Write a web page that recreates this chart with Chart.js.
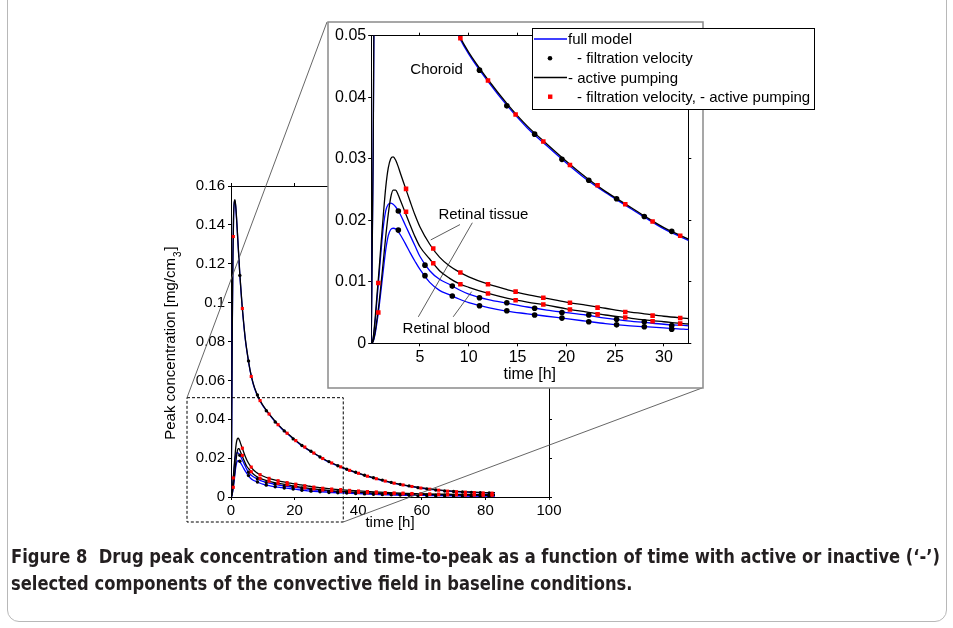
<!DOCTYPE html>
<html><head><meta charset="utf-8">
<script src="https://cdn.jsdelivr.net/npm/chart.js@4.4.1/dist/chart.umd.min.js"></script>
<style>
html,body{margin:0;padding:0;background:#fff;}
body{width:953px;height:628px;position:relative;overflow:hidden;font-family:"Liberation Sans",Arial,sans-serif;}
#frame{position:absolute;left:7px;top:-20px;width:940px;height:642px;border:1px solid #b8b8b8;border-radius:12px;box-sizing:border-box;}
#mainWrap{position:absolute;left:0;top:0;width:953px;height:628px;}
#insetWrap{position:absolute;left:320px;top:14px;width:510px;height:390px;}
.cap{position:absolute;left:11px;white-space:nowrap;font-family:"Liberation Sans Narrow","DejaVu Sans Condensed","Liberation Sans",sans-serif;font-weight:bold;font-size:20px;line-height:27px;color:#231f20;transform-origin:0 50%;}
</style>
</head><body>
<div id="frame"></div>
<div id="mainWrap"><canvas id="mainChart" width="953" height="628"></canvas></div>
<div id="insetWrap"><canvas id="insetChart" width="510" height="390"></canvas></div>
<div class="cap" id="cap1" style="top:543px">Figure 8&nbsp;&nbsp;Drug peak concentration and time-to-peak as a function of time with active or inactive (‘-’)</div>
<div class="cap" id="cap2" style="top:570px">selected components of the convective field in baseline conditions.</div>
<script>
// ---------------- data ----------------
const timeH = [0, 0.2, 0.4, 0.6, 0.8, 1.0, 1.25, 1.5, 1.75, 2.0, 2.25, 2.5, 2.75, 3.0, 3.5, 4, 4.5, 5, 6, 7, 8, 9, 10, 12, 14, 16, 18, 20, 22, 24, 26, 28, 30, 32, 35, 40, 45, 50, 55, 60, 65, 70, 75, 80, 83];

// full model (blue lines)
const choroidFull = [0, 0.030, 0.085, 0.122, 0.143, 0.151, 0.1525, 0.149, 0.143, 0.136, 0.129, 0.122, 0.115, 0.109, 0.098, 0.089, 0.081, 0.075, 0.065, 0.058, 0.0533, 0.0498, 0.0470, 0.0425, 0.0385, 0.0350, 0.0321, 0.0293, 0.0267, 0.0245, 0.0225, 0.0205, 0.0186, 0.0171, 0.0150, 0.0121, 0.0096, 0.0075, 0.0058, 0.0045, 0.0035, 0.0028, 0.0024, 0.0021, 0.0020];
const tissueFull = [0, 0.0008, 0.0035, 0.0072, 0.0110, 0.0148, 0.0190, 0.0216, 0.0226, 0.0228, 0.0226, 0.0222, 0.0216, 0.0209, 0.0192, 0.0175, 0.0158, 0.0141, 0.0118, 0.0104, 0.0096, 0.0087, 0.0080, 0.0071, 0.0065, 0.0059, 0.0054, 0.0050, 0.0046, 0.0041, 0.0037, 0.0034, 0.0031, 0.0029, 0.0026, 0.0021, 0.0017, 0.0014, 0.0012, 0.0010, 0.0009, 0.0008, 0.0007, 0.0007, 0.0006];
const bloodFull = [0, 0.0003, 0.0015, 0.0035, 0.0058, 0.0085, 0.0120, 0.0153, 0.0175, 0.0185, 0.0187, 0.0186, 0.0182, 0.0176, 0.0162, 0.0147, 0.0133, 0.0120, 0.0099, 0.0086, 0.0079, 0.0072, 0.0066, 0.0058, 0.0052, 0.0048, 0.0044, 0.0040, 0.0036, 0.0032, 0.0029, 0.0027, 0.0025, 0.0023, 0.0021, 0.0017, 0.0014, 0.0011, 0.0009, 0.0008, 0.0007, 0.0006, 0.0005, 0.0005, 0.0004];

// - active pumping (black lines)
const choroidNoPump = [0, 0.031, 0.087, 0.124, 0.144, 0.1515, 0.153, 0.1495, 0.1435, 0.1365, 0.1295, 0.1225, 0.1155, 0.1095, 0.0985, 0.0894, 0.0814, 0.0753, 0.0653, 0.0583, 0.0536, 0.0501, 0.0473, 0.0428, 0.0388, 0.0353, 0.0324, 0.0296, 0.0270, 0.0247, 0.0227, 0.0207, 0.0188, 0.0173, 0.0152, 0.0123, 0.0098, 0.0077, 0.0060, 0.0047, 0.0037, 0.0030, 0.0026, 0.0023, 0.0022];
const tissueNoPump = [0, 0.0008, 0.0040, 0.0080, 0.0118, 0.0160, 0.0210, 0.0255, 0.0285, 0.0300, 0.0303, 0.0298, 0.0288, 0.0276, 0.0253, 0.0230, 0.0208, 0.0189, 0.0161, 0.0140, 0.0126, 0.0116, 0.0108, 0.0096, 0.0087, 0.0079, 0.0073, 0.0067, 0.0062, 0.0057, 0.0052, 0.0048, 0.0044, 0.0041, 0.0037, 0.0031, 0.0026, 0.0022, 0.0019, 0.0017, 0.0015, 0.0014, 0.0013, 0.0012, 0.0012];
const bloodNoPump = [0, 0.0003, 0.0018, 0.0040, 0.0065, 0.0095, 0.0135, 0.0175, 0.0210, 0.0237, 0.0249, 0.0249, 0.0242, 0.0232, 0.0212, 0.0192, 0.0173, 0.0157, 0.0137, 0.0118, 0.0106, 0.0097, 0.0091, 0.0081, 0.0073, 0.0067, 0.0062, 0.0056, 0.0051, 0.0046, 0.0042, 0.0038, 0.0035, 0.0032, 0.0029, 0.0024, 0.0020, 0.0017, 0.0015, 0.0013, 0.0012, 0.0011, 0.0010, 0.0009, 0.0009];

// - filtration velocity (black dots)
const dotTimes = [2.78, 5.51, 8.31, 11.1, 13.9, 16.75, 19.55, 22.3, 25.15, 27.99, 30.8, 33.6, 36.4, 39.2, 42.0, 44.8, 47.6, 50.4, 53.2, 56.0, 58.8, 61.6, 64.4, 67.2, 70.0, 72.8, 75.6, 78.4, 81.2];
const choroidNoFilt = [0.114, 0.070, 0.0525, 0.0444, 0.0386, 0.0340, 0.0299, 0.0265, 0.0235, 0.0206, 0.0182, 0.0161, 0.0143, 0.0127, 0.0112, 0.0099, 0.0087, 0.0075, 0.0065, 0.0057, 0.0048, 0.0042, 0.0036, 0.0031, 0.0028, 0.0026, 0.0024, 0.0022, 0.0021];
const tissueNoFilt = [0.0215, 0.0127, 0.0093, 0.0074, 0.0066, 0.0057, 0.0050, 0.0046, 0.0039, 0.0035, 0.0029, 0.0027, 0.0025, 0.0022, 0.0020, 0.0017, 0.0015, 0.0014, 0.0013, 0.0012, 0.0010, 0.0010, 0.0009, 0.0009, 0.0008, 0.0008, 0.0007, 0.0007, 0.0007];
const bloodNoFilt = [0.0184, 0.0110, 0.0077, 0.0061, 0.0053, 0.0046, 0.0041, 0.0035, 0.0030, 0.0027, 0.0023, 0.0022, 0.0020, 0.0018, 0.0016, 0.0014, 0.0013, 0.0011, 0.0010, 0.0009, 0.0008, 0.0008, 0.0007, 0.0007, 0.0006, 0.0006, 0.0005, 0.0005, 0.0005];

// - filtration velocity, - active pumping (red squares)
const squareTimes = [0.73, 3.57, 6.36, 9.14, 11.97, 14.8, 17.64, 20.37, 23.2, 26.04, 28.84, 31.67, 34.5, 37.3, 40.1, 42.9, 45.7, 48.5, 51.3, 54.1, 56.9, 59.7, 62.5, 65.3, 68.1, 70.9, 73.7, 76.5, 79.3, 82.1];
const choroidNoBoth = [0.134, 0.097, 0.062, 0.0496, 0.0427, 0.0372, 0.0328, 0.0290, 0.0257, 0.0226, 0.0198, 0.0175, 0.0155, 0.0137, 0.0122, 0.0107, 0.0094, 0.0082, 0.0071, 0.0062, 0.0054, 0.0046, 0.0040, 0.0035, 0.0030, 0.0027, 0.0025, 0.0023, 0.0021, 0.0020];
const tissueNoBoth = [0.0098, 0.0251, 0.0154, 0.0115, 0.0096, 0.0084, 0.0074, 0.0066, 0.0058, 0.0051, 0.0045, 0.0041, 0.0038, 0.0034, 0.0031, 0.0028, 0.0026, 0.0023, 0.0021, 0.0020, 0.0018, 0.0017, 0.0016, 0.0015, 0.0014, 0.0014, 0.0013, 0.0013, 0.0012, 0.0012];
const bloodNoBoth = [0.0050, 0.0214, 0.0130, 0.0096, 0.0081, 0.0070, 0.0063, 0.0055, 0.0047, 0.0042, 0.0036, 0.0032, 0.0029, 0.0026, 0.0024, 0.0022, 0.0020, 0.0018, 0.0017, 0.0016, 0.0015, 0.0013, 0.0013, 0.0012, 0.0011, 0.0011, 0.0010, 0.0010, 0.0009, 0.0009];

// ticks
const mainXTicks = [0, 20, 40, 60, 80, 100];
const mainYTicks = [0, 0.02, 0.04, 0.06, 0.08, 0.1, 0.12, 0.14, 0.16];
const mainYTickLabels = ['0', '0.02', '0.04', '0.06', '0.08', '0.1', '0.12', '0.14', '0.16'];
const insetXTicks = [5, 10, 15, 20, 25, 30];
const insetYTicks = [0, 0.01, 0.02, 0.03, 0.04, 0.05];
const insetYTickLabels = ['0', '0.01', '0.02', '0.03', '0.04', '0.05'];

// texts
const legendLabels = ['full model', '- filtration velocity', '- active pumping', '- filtration velocity, - active pumping'];
const regionLabels = ['Choroid', 'Retinal tissue', 'Retinal blood'];
const regionLabelT = [6.7, 11.5, 7.7];
const regionLabelV = [0.0445, 0.0209, 0.0024];
// leader lines [t1, v1, t2, v2]
const leaderLines = [[6.1, 0.0168, 9.1, 0.0193], [4.83, 0.0043, 10.8, 0.0208], [8.4, 0.0043, 10.3, 0.0084]];

// ---------------- styling ----------------
const BLUE = '#0000ff', BLACK = '#000000', RED = '#ff0000';
const FONT = '"Liberation Sans", Arial, sans-serif';

function pts(ts, vs) { return ts.map((t, i) => ({ x: t, y: vs[i] })); }

function makeDatasets(sz) {
  const ds = [];
  [choroidNoBoth, tissueNoBoth, bloodNoBoth].forEach(v => ds.push({
    data: pts(squareTimes, v), showLine: false, pointStyle: 'rect', pointRadius: sz.sq,
    pointBackgroundColor: RED, pointBorderColor: RED, pointBorderWidth: 0, pointHoverRadius: 0 }));
  [choroidNoFilt, tissueNoFilt, bloodNoFilt].forEach(v => ds.push({
    data: pts(dotTimes, v), showLine: false, pointStyle: 'circle', pointRadius: sz.dot,
    pointBackgroundColor: BLACK, pointBorderColor: BLACK, pointBorderWidth: 0, pointHoverRadius: 0 }));
  [choroidNoPump, tissueNoPump, bloodNoPump].forEach(v => ds.push({
    data: pts(timeH, v), showLine: true, borderColor: BLACK, borderWidth: sz.lw, pointRadius: 0,
    cubicInterpolationMode: 'monotone', fill: false }));
  [choroidFull, tissueFull, bloodFull].forEach(v => ds.push({
    data: pts(timeH, v), showLine: true, borderColor: BLUE, borderWidth: sz.lw, pointRadius: 0,
    cubicInterpolationMode: 'monotone', fill: false }));
  return ds;
}

function axis(pos, min, max, tickVals, tickLabels, fontSize, showLabels, fitSize, pad) {
  const horiz = (pos === 'top' || pos === 'bottom');
  return {
    type: 'linear', position: pos, min: min, max: max,
    afterBuildTicks: s => { s.ticks = tickVals.map(v => ({ value: v })); },
    afterFit: s => { if (horiz) s.height = fitSize; else s.width = fitSize; },
    ticks: {
      display: showLabels, color: '#000', padding: pad, maxRotation: 0, autoSkip: false,
      font: { family: FONT, size: fontSize },
      callback: (v, i) => tickLabels ? tickLabels[i] : String(v)
    },
    grid: { drawOnChartArea: false, drawTicks: true, tickLength: 3, color: '#000', lineWidth: 1 },
    border: { display: true, color: '#000', width: 1 }
  };
}

// ---------------- main chart ----------------
const DASH_RECT = { tRight: 35.3, vTop: 0.0511, leftOff: 44, bottomOff: 25 };
const INSET_BOX = { left: 328, top: 22, right: 703, bottom: 388 }; // page coords
const INSET_CANVAS = { left: 320, top: 14 };

const mainDecor = {
  id: 'mainDecor',
  afterDraw(chart) {
    const ctx = chart.ctx, xs = chart.scales.x, ys = chart.scales.y, ca = chart.chartArea;
    ctx.save();
    // dashed zoom rectangle
    const rl = ca.left - DASH_RECT.leftOff, rr = xs.getPixelForValue(DASH_RECT.tRight);
    const rt = ys.getPixelForValue(DASH_RECT.vTop), rb = ca.bottom + DASH_RECT.bottomOff;
    ctx.strokeStyle = '#000'; ctx.lineWidth = 1; ctx.setLineDash([3, 2]);
    ctx.strokeRect(rl, rt, rr - rl, rb - rt);
    ctx.setLineDash([]);
    // connector lines
    ctx.strokeStyle = '#555'; ctx.lineWidth = 0.9;
    ctx.beginPath(); ctx.moveTo(rl, rt); ctx.lineTo(INSET_BOX.left - 1, INSET_BOX.top); ctx.stroke();
    ctx.beginPath(); ctx.moveTo(rr, rb); ctx.lineTo(INSET_BOX.right - 1, INSET_BOX.bottom); ctx.stroke();
    // x title
    ctx.fillStyle = '#000'; ctx.textAlign = 'center'; ctx.textBaseline = 'middle';
    ctx.font = '15px ' + FONT;
    ctx.fillText('time [h]', (ca.left + ca.right) / 2, 523);
    // y title with superscript
    ctx.translate(171, 343); ctx.rotate(-Math.PI / 2);
    const t1 = 'Peak concentration [mg/cm', t3 = ']';
    ctx.font = '15px ' + FONT; const w1 = ctx.measureText(t1).width, w3 = ctx.measureText(t3).width;
    ctx.font = '10px ' + FONT; const w2 = ctx.measureText('3').width;
    let x0 = -(w1 + w2 + w3 + 2) / 2;
    ctx.textAlign = 'left';
    ctx.font = '15px ' + FONT; ctx.fillText(t1, x0, 0);
    ctx.font = '10px ' + FONT; ctx.fillText('3', x0 + w1 + 1, 7);
    ctx.font = '15px ' + FONT; ctx.fillText(t3, x0 + w1 + w2 + 2, 0);
    ctx.restore();
  }
};

new Chart(document.getElementById('mainChart'), {
  type: 'line',
  data: { datasets: makeDatasets({ sq: 2.2, dot: 1.7, lw: 1.3 }) },
  options: {
    responsive: false, animation: false, devicePixelRatio: 1, events: [],
    layout: { padding: { left: 171, right: 394, top: 176, bottom: 91 } },
    plugins: { legend: { display: false }, tooltip: { enabled: false } },
    scales: {
      x: axis('bottom', 0, 100, mainXTicks, null, 15, true, 40, 2),
      x2: axis('top', 0, 100, mainXTicks, null, 15, false, 10, 2),
      y: axis('left', 0, 0.16, mainYTicks, mainYTickLabels, 15, true, 60, 3),
      y2: axis('right', 0, 0.16, mainYTicks, null, 15, false, 10, 2)
    }
  },
  plugins: [mainDecor]
});

// ---------------- inset chart ----------------
const insetDecor = {
  id: 'insetDecor',
  beforeDraw(chart) {
    const ctx = chart.ctx;
    const l = INSET_BOX.left - INSET_CANVAS.left, t = INSET_BOX.top - INSET_CANVAS.top;
    const w = INSET_BOX.right - INSET_BOX.left, h = INSET_BOX.bottom - INSET_BOX.top;
    ctx.save();
    ctx.fillStyle = '#fff'; ctx.fillRect(l, t, w, h);
    ctx.strokeStyle = '#8a8a8a'; ctx.lineWidth = 1.5; ctx.strokeRect(l, t, w, h);
    ctx.restore();
  },
  afterDraw(chart) {
    const ctx = chart.ctx, xs = chart.scales.x, ys = chart.scales.y, ca = chart.chartArea;
    ctx.save();
    // leader lines
    ctx.strokeStyle = '#333'; ctx.lineWidth = 0.8;
    leaderLines.forEach(L => {
      ctx.beginPath();
      ctx.moveTo(xs.getPixelForValue(L[0]), ys.getPixelForValue(L[1]));
      ctx.lineTo(xs.getPixelForValue(L[2]), ys.getPixelForValue(L[3]));
      ctx.stroke();
    });
    // region labels
    ctx.fillStyle = '#000'; ctx.font = '15px ' + FONT; ctx.textAlign = 'center'; ctx.textBaseline = 'middle';
    regionLabels.forEach((s, i) => {
      const px = xs.getPixelForValue(regionLabelT[i]), py = ys.getPixelForValue(regionLabelV[i]);
      const w = ctx.measureText(s).width;
      ctx.fillStyle = '#fff'; ctx.fillRect(px - w / 2 - 1, py - 8, w + 2, 16);
      ctx.fillStyle = '#000'; ctx.fillText(s, px, py);
    });
    // x title
    ctx.font = '16px ' + FONT;
    ctx.fillText('time [h]', (ca.left + ca.right) / 2, 361);
    // legend
    const LX = 532 - INSET_CANVAS.left, LY = 28 - INSET_CANVAS.top, LW = 282, LH = 81;
    ctx.fillStyle = '#fff'; ctx.fillRect(LX, LY, LW, LH);
    ctx.strokeStyle = '#000'; ctx.lineWidth = 1; ctx.strokeRect(LX + 0.5, LY + 0.5, LW, LH);
    const rowY = [11, 30.3, 49.5, 68.7];
    const kinds = [
      { type: 'line', color: BLUE }, { type: 'dot', color: BLACK },
      { type: 'line', color: BLACK }, { type: 'sq', color: RED }
    ];
    ctx.font = '15px ' + FONT; ctx.textAlign = 'left'; ctx.textBaseline = 'middle';
    legendLabels.forEach((s, i) => {
      const y = LY + rowY[i], k = kinds[i];
      if (k.type === 'line') {
        ctx.strokeStyle = k.color; ctx.lineWidth = 1.3;
        ctx.beginPath(); ctx.moveTo(LX + 2, y); ctx.lineTo(LX + 35, y); ctx.stroke();
      } else if (k.type === 'dot') {
        ctx.fillStyle = k.color; ctx.beginPath(); ctx.arc(LX + 18, y, 2.3, 0, Math.PI * 2); ctx.fill();
      } else {
        ctx.fillStyle = k.color; ctx.fillRect(LX + 16, y - 2.2, 4.4, 4.4);
      }
      ctx.fillStyle = '#000';
      ctx.fillText(s, LX + (k.type === 'line' ? 36 : 45), y + 1);
    });
    ctx.restore();
  }
};

new Chart(document.getElementById('insetChart'), {
  type: 'line',
  data: { datasets: makeDatasets({ sq: 3.2, dot: 2.8, lw: 1.3 }) },
  options: {
    responsive: false, animation: false, devicePixelRatio: 1, events: [],
    layout: { padding: { left: 11.2, right: 136.7, top: 16.7, bottom: 30.7 } },
    plugins: { legend: { display: false }, tooltip: { enabled: false } },
    scales: {
      x: axis('bottom', 0, 32.5, insetXTicks, null, 16, true, 30, 2),
      x2: axis('top', 0, 32.5, insetXTicks, null, 16, false, 5, 2),
      y: axis('left', 0, 0.05, insetYTicks, insetYTickLabels, 16, true, 40, 2),
      y2: axis('right', 0, 0.05, insetYTicks, null, 16, false, 5, 2)
    }
  },
  plugins: [insetDecor]
});

// ---------------- caption fit ----------------
(function () {
  const c1 = document.getElementById('cap1'), c2 = document.getElementById('cap2');
  const w = c1.getBoundingClientRect().width;
  const s = 929 / w;
  c1.style.transform = 'scaleX(' + s + ')';
  c2.style.transform = 'scaleX(' + s + ')';
})();
</script>
</body></html>
